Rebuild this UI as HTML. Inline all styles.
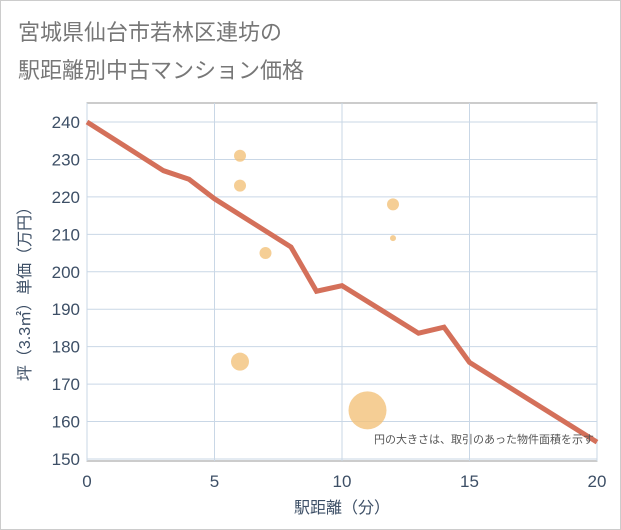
<!DOCTYPE html>
<html><head><meta charset="utf-8"><style>
body{margin:0;background:#fff}
svg{display:block;font-family:"Liberation Sans","Noto Sans CJK JP",sans-serif}
</style></head><body>
<svg width="621" height="530">
<rect x="0.5" y="0.5" width="620" height="529" fill="#fff" stroke="#ccc"/>
<text x="18" y="40" font-size="22" fill="#777">宮城県仙台市若林区連坊の</text>
<text x="18" y="78" font-size="22" fill="#777">駅距離別中古マンション価格</text>
<g id="grid"></g>
<g id="marks"></g>
<text x="594" y="443" font-size="11" fill="#555" text-anchor="end">円の大きさは、取引のあった物件面積を示す</text>
<text x="342" y="513" font-size="16" fill="#3d4f66" text-anchor="middle">駅距離（分）</text>
<text transform="translate(30,290) rotate(-90)" font-size="16" fill="#3d4f66" text-anchor="middle">坪（3.3㎡）単価（万円）</text>
</svg>
<script>
const xTicks=[0,5,10,15,20];
const yTicks=[150,160,170,180,190,200,210,220,230,240];
const lineX=[0,3,4,5,8,9,10,13,14,15,20];
const lineY=[240,227,224.7,219.5,206.6,194.8,196.3,183.6,185.2,175.8,154.5];
const bubX=[6,6,7,6,12,12,11];
const bubY=[231,223,205,176,218,209,163];
const bubR=[6,6,6,9,6,3,19];
const L=87,R=597,T=103,B=461;
const sx=v=>L+(v-0)/20*(R-L);
const sy=v=>122+(240-v)/90*(459-122);
const NS="http://www.w3.org/2000/svg";
const g=document.getElementById('grid'),m=document.getElementById('marks');
function mk(p,tag,at){const e=document.createElementNS(NS,tag);for(const k in at)e.setAttribute(k,at[k]);p.appendChild(e);return e;}
const bg=mk(g,'rect',{x:L,y:T,width:R-L,height:B-T,fill:'#fff',stroke:'#999'});


xTicks.forEach(v=>{
 const ln=mk(g,'line',{x1:sx(v),x2:sx(v),y1:T,y2:B,stroke:'#c9d7e6'});
 
 
 const t=mk(g,'text',{x:sx(v),y:487,'font-size':17,fill:'#3d4f66','text-anchor':'middle'});t.textContent=v;
 
 
});
yTicks.forEach(v=>{
 const ln=mk(g,'line',{x1:L,x2:R,y1:sy(v),y2:sy(v),stroke:'#c9d7e6'});
 
 
 const t=mk(g,'text',{x:80,y:sy(v)+6,'font-size':17,fill:'#3d4f66','text-anchor':'end'});t.textContent=v;
 
 
});
bubX.forEach((x,i)=>{
 const c=mk(m,'circle',{cx:sx(x),cy:sy(bubY[i]),r:bubR[i],fill:'#f2c27a',opacity:0.8});
 
 
});
const pl=mk(m,'polyline',{points:lineX.map((x,i)=>sx(x)+','+sy(lineY[i])).join(' '),fill:'none',stroke:'#d4705a','stroke-width':5});


</script>
</body></html>
